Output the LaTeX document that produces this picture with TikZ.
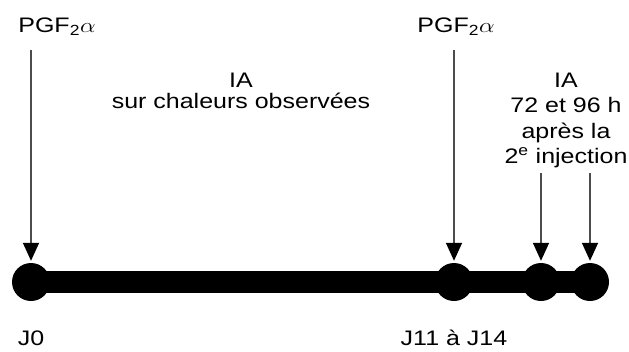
\documentclass[tikz,border=0pt]{standalone}
\usepackage{fontspec}
\setmainfont{Liberation Sans}
\usepackage{tikz}
\usepackage{xcolor}
\usetikzlibrary{positioning, calc, arrows.meta}

\newcommand{\widetext}[1]{\scalebox{1.19}[1]{\begin{tabular}[t]{@{}c@{}}#1\end{tabular}}}

\begin{document}
\begin{tikzpicture}[x=1pt, y=-1pt,
        dot/.style={circle, fill=black, inner sep=0pt, minimum size=38pt},
        lbl/.style={font=\fontsize{21}{25.5}\selectfont, anchor=base, inner sep=0pt},
        inj/.style={line width=1.6pt, black!70, -{Triangle[length=18pt, width=16pt, black]}, shorten >=2pt}]
        \useasboundingbox (0,0) rectangle (629,351);
        \node[dot] (d0) at (31,282) {};
        \node[dot] (d1) at (454,282) {};
        \node[dot] (d2) at (541,282) {};
        \node[dot] (d3) at (590,282) {};
        \draw[line width=22pt] (d0.center) -- (d3.center);
        \coordinate (a0) at (31,50);
        \coordinate (a1) at (454,50);
        \coordinate (a2) at (541,173);
        \coordinate (a3) at (590,173);
        \draw[inj] (a0) -- (d0);
        \draw[inj] (a1) -- (d1);
        \draw[inj] (a2) -- (d2);
        \draw[inj] (a3) -- (d3);
        \node[lbl] (pgf0) at (57,32) {\widetext{PGF\textsubscript{2}$\alpha$}};
        \node[lbl] (pgf1) at (456,32) {\widetext{PGF\textsubscript{2}$\alpha$}};
        \node[lbl, font=\fontsize{21}{20}\selectfont] (ia0) at (241,87) {\widetext{IA\\sur chaleurs observ\'ees}};
        \node[lbl] (ia1) at (566,87) {\widetext{IA\\72 et 96 h\\apr\`es la\\2\textsuperscript{e} injection}};
        \node[lbl] (j0) at (31,345) {\widetext{J0}};
        \node[lbl] (j1) at (454,345) {\widetext{J11 \`a J14}};
\end{tikzpicture}
\end{document}
